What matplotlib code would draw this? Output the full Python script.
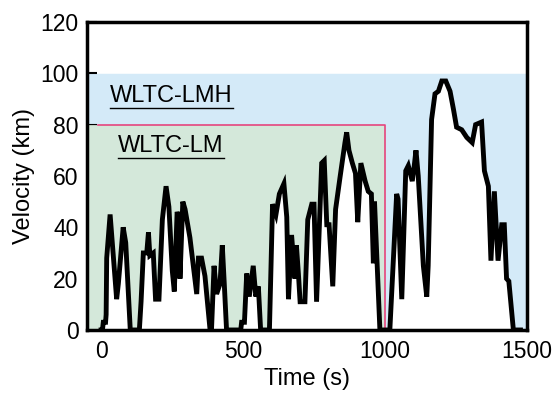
import matplotlib
matplotlib.use("Agg")
import matplotlib.pyplot as plt
import numpy as np

plt.rcParams['font.family'] = ['Liberation Sans', 'DejaVu Sans']

# WLTC drive cycle (time in s, velocity in km/h)
time = [0, 5, 8, 16, 18, 20, 32, 55, 61, 78,
        87, 103, 135, 141, 149, 161, 167, 172, 184, 192,
        204, 216, 229, 239, 251, 258, 268, 276, 278, 288,
        296, 313, 325, 337, 343, 354, 366, 372, 384, 389,
        398, 407, 419, 427, 434, 442, 492, 495, 505, 513,
        522, 536, 545, 554, 562, 593, 604, 616, 628, 644,
        654, 660, 671, 683, 688, 695, 701, 718, 728, 742,
        750, 759, 777, 786, 795, 803, 816, 826, 841, 859,
        865, 873, 885, 896, 904, 915, 930, 941, 952, 959,
        963, 982, 1000, 1017, 1041, 1046, 1059, 1073, 1082, 1096,
        1103, 1109, 1117, 1135, 1147, 1152, 1164, 1176, 1188, 1200,
        1214, 1229, 1241, 1252, 1270, 1288, 1307, 1319, 1340, 1350,
        1364, 1373, 1385, 1398, 1411, 1420, 1428, 1436, 1452, 1477]
velocity = [0, 0, 3, 3, 6, 28, 45, 12, 18, 40,
            34, 0, 0, 11, 30, 30, 38, 29, 30, 12,
            12, 43, 56, 48, 23, 15, 46, 43, 20, 50,
            47, 36, 25, 14, 28, 28, 21, 14, 0, 0,
            25, 14, 18, 33, 18, 0, 0, 3, 3, 22,
            13, 25, 13, 17, 0, 0, 49, 45, 53, 57,
            44, 12, 37, 20, 33, 22, 11, 11, 43, 49,
            49, 11, 65, 66, 41, 41, 17, 47, 59, 73,
            77, 70, 65, 61, 42, 65, 58, 54, 53, 26,
            50, 0, 0, 0, 53, 51, 12, 62, 64, 58,
            64, 70, 60, 25, 13, 25, 82, 92, 93, 97,
            97, 93, 86, 79, 78, 75, 73, 80, 81, 62,
            56, 27, 54, 27, 41, 41, 20, 19, 0, 0]

lm_end = 1000
lm_top = 80
lmh_top = 100

t = np.array(time, dtype=float)
v = np.array(velocity, dtype=float)

fig = plt.figure(figsize=(5.53, 3.99), dpi=100)
ax = fig.add_axes([0.157, 0.173, 0.796, 0.772])

# shaded areas above the speed trace
t_full = np.concatenate([[-50], t, [1500]])
v_full = np.concatenate([[0], v, [0]])
ax.fill_between(t_full, v_full, lmh_top, color="#d4eaf8", lw=0, zorder=1)
m = t <= lm_end
t_lm = np.concatenate([[-50], t[m]])
v_lm = np.concatenate([[0], v[m]])
ax.fill_between(t_lm, v_lm, lm_top, color="#d4e8da", lw=0, zorder=2)

ax.plot([-10, lm_end, lm_end], [lm_top, lm_top, 0], color="#e6457e", lw=1.2, zorder=3)
ax.plot(t, v, color="black", lw=3.5, solid_joinstyle="miter", zorder=4)

ax.set_xlim(-50, 1500)
ax.set_ylim(0, 120)
ax.set_xticks([0, 500, 1000, 1500])
ax.set_yticks([0, 20, 40, 60, 80, 100, 120])
ax.tick_params(axis='y', direction='in', length=7, width=1.5, pad=6, labelsize=16.5)
ax.tick_params(axis='x', length=0, pad=7, labelsize=16.5)
for s in ax.spines.values():
    s.set_linewidth(2.5)
ax.set_xlabel("Time (s)", fontsize=17, labelpad=4)
ax.set_ylabel("Velocity (km)", fontsize=17, labelpad=4)

labels = [
    ax.text(32, 91, "WLTC-LMH", fontsize=17, va="center", zorder=5),
    ax.text(60, 71.5, "WLTC-LM", fontsize=17, va="center", zorder=5),
]

# underline the labels
fig.canvas.draw()
inv = ax.transData.inverted()
for txt in labels:
    bb = txt.get_window_extent()
    (x0, y0), (x1, _) = inv.transform([[bb.x0, bb.y0], [bb.x1, bb.y0]])
    ax.plot([x0, x1], [y0 - 0.3, y0 - 0.3], color="black", lw=1, zorder=5)

fig.savefig("out.png", dpi=100)
